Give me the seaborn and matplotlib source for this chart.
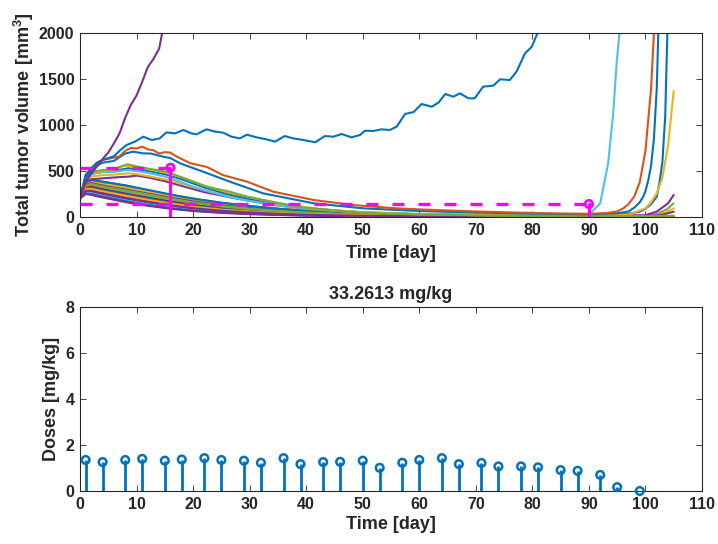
import numpy as np
import pandas as pd
import matplotlib
matplotlib.use("Agg")
import matplotlib.pyplot as plt
import seaborn as sns

# ---------------- data: tumour volume curves (mm^3) ----------------
BLUE, ORANGE, YELLOW, PURPLE = "#0072BD", "#D95319", "#EDB120", "#7E2F8E"
GREEN, CYAN, RED = "#77AC30", "#4DBEEE", "#A2142F"

d_purple_fast = [0, 1, 2, 3, 4, 5, 6, 7, 8, 9, 10, 11, 12, 13, 14, 15]
v_purple_fast = [200, 380, 470, 550, 630, 700, 800, 910, 1080, 1220, 1320, 1470, 1630, 1720, 1830, 2150]

d_blue_wave = [0, 1, 2, 3, 4, 5, 6, 7, 8.25, 9.7, 11.2, 12.7, 14.1, 15.3, 16.8, 18.3, 19.7, 20.6,
               22.4, 23.9, 25.3, 26.8, 28.3, 29.5, 31.2, 33.0, 34.5, 36.2, 37.7, 39.5, 41.6,
               43.3, 44.8, 46.3, 48.0, 49.5, 50.4, 51.9, 53.3, 54.8, 56.0, 57.5, 59.0, 60.4,
               62.2, 63.4, 64.6, 66.0, 67.2, 68.7, 69.8, 71.3, 73.1, 74.3, 76.0, 77.2, 78.7,
               79.9, 80.9, 81.5]
v_blue_wave = [200, 450, 530, 590, 620, 640, 660, 720, 783, 819, 873, 837, 855, 920, 909, 946, 909, 899,
               953, 928, 917, 873, 855, 895, 866, 844, 819, 880, 855, 837, 812,
               880, 873, 902, 866, 891, 938, 935, 953, 946, 982, 1120, 1141, 1228,
               1199, 1243, 1337, 1308, 1344, 1290, 1290, 1417, 1428, 1497, 1489, 1580, 1779,
               1851, 1997, 2150]

d_orange_top = [0, 1, 2, 3, 4, 6, 7, 8, 9, 10, 11, 12, 13, 14, 15, 16, 17, 19.5, 22.4, 25.3, 29.5,
                34.2, 41.3, 48.3, 56, 61, 70, 78, 85, 90, 93, 95, 96, 97, 98, 99, 100, 101, 102]
v_orange_top = [200, 460, 530, 590, 620, 645, 660, 720, 750, 745, 765, 735, 725, 690, 705, 700, 660,
                585, 545, 455, 385, 275, 185, 130, 94, 80, 60, 47, 38, 35, 42, 60, 90, 140, 220,
                380, 720, 1400, 2600]

d_blue_top = [0, 1, 2, 3, 4, 6, 8, 9.4, 11.2, 12.5, 14.7, 16, 17.7, 21.8, 26.5, 32.4, 41.3, 50.1,
              60, 70, 80, 90, 95, 97, 98, 99, 99.6, 100, 100.5, 101, 101.5, 102, 102.5]
v_blue_top = [200, 420, 500, 560, 590, 610, 690, 710, 692, 690, 656, 640, 583, 492, 384, 257, 149, 94,
              65, 48, 37, 30, 40, 60, 100, 160, 220, 280, 400, 560, 850, 1400, 2500]

d_green_mid = [0, 1, 2, 4, 6, 7, 8.5, 10, 11.8, 15.3, 17.7, 22.4, 26.5, 29.5, 35.4, 38.3, 44.2,
               47.2, 53, 60, 70, 80, 90, 100, 105]
v_green_mid = [200, 440, 490, 510, 520, 545, 573, 550, 529, 492, 438, 329, 275, 221, 149, 112, 76,
               58, 40, 28, 18, 13, 10, 10, 12]

d_yellow_mid = [0, 1, 2, 4, 6, 8, 10, 12, 15, 18, 22, 26, 30, 35, 40, 45, 50, 60, 70, 80, 90, 100, 105]
v_yellow_mid = [200, 430, 480, 500, 515, 560, 545, 520, 485, 430, 340, 270, 215, 150, 105, 72, 52,
                30, 20, 14, 11, 10, 12]

d_cyan_mid = [0, 1, 2, 4, 6, 8.3, 10, 12, 15, 17.7, 20, 22, 26.5, 30, 35.4, 40, 45, 50, 60, 70, 80,
              88, 90, 92, 93.4, 94.3, 94.9, 95.4, 96]
v_cyan_mid = [200, 420, 470, 490, 490, 511, 500, 480, 440, 384, 330, 290, 215, 175, 125, 95, 70, 52,
              33, 24, 20, 20, 22, 149, 583, 1127, 1670, 2000, 2600]

d_blue_mid = [0, 1, 2, 4, 6, 8.5, 10, 12, 15, 18, 22, 26, 30, 35, 40, 50, 60, 70, 80, 90, 100, 105]
v_blue_mid = [200, 420, 470, 490, 500, 530, 520, 500, 465, 410, 320, 250, 195, 135, 95, 50, 30, 20,
              14, 10, 8, 8]

d_purple_mid = [0, 1, 2, 4, 6, 8.8, 10, 12, 15, 19.5, 22, 26.5, 30, 35, 40, 45, 50, 60, 70, 80, 90,
                100, 102, 104, 105]
v_purple_mid = [200, 380, 410, 420, 430, 440, 450, 430, 390, 312, 270, 215, 175, 125, 90, 65, 48,
                28, 18, 13, 10, 20, 58, 149, 239]

d_yellow_mid2 = [0, 1, 2, 4, 6, 8.5, 10, 12, 15, 18, 22, 26, 30, 35, 40, 50, 60, 70, 80, 90, 97,
                 100, 101, 102, 103, 104, 105]
v_yellow_mid2 = [200, 400, 440, 455, 460, 475, 465, 445, 410, 360, 290, 230, 180, 125, 88, 48, 30,
                 22, 18, 18, 25, 95, 160, 257, 430, 780, 1370]

d_bundle = [0, 1, 2, 3, 5, 8, 12, 16, 20, 25, 30, 35, 40, 50, 60, 70, 80, 90, 100, 105]
v_b01 = [200, 380, 400, 390, 370, 340, 290, 240, 195, 150, 115, 88, 66, 38, 22, 14, 10, 8, 7, 7]
v_b02 = [200, 370, 390, 380, 360, 330, 285, 240, 200, 155, 120, 90, 68, 40, 24, 15, 10, 8, 7, 7]
v_b03 = [200, 360, 380, 370, 350, 320, 275, 230, 190, 145, 110, 85, 63, 36, 21, 13, 9, 7, 6, 6]
v_b04 = [200, 350, 370, 355, 330, 300, 255, 210, 170, 128, 96, 72, 54, 30, 17, 11, 8, 6, 6, 6]
v_b05 = [200, 340, 360, 345, 320, 290, 245, 200, 160, 120, 90, 68, 50, 28, 16, 10, 7, 6, 6, 6]
v_b06 = [200, 330, 345, 330, 305, 270, 225, 180, 143, 105, 78, 58, 43, 24, 14, 9, 7, 5, 5, 5]
v_b07 = [200, 320, 330, 315, 290, 255, 210, 168, 132, 96, 70, 52, 38, 21, 12, 8, 6, 5, 5, 5]
v_b08 = [200, 310, 320, 305, 280, 245, 200, 158, 122, 88, 64, 47, 34, 19, 11, 7, 5, 5, 5, 5]
v_b09 = [200, 300, 310, 295, 270, 235, 190, 150, 115, 82, 60, 43, 31, 17, 10, 7, 5, 4, 4, 4]
v_b10 = [200, 295, 300, 285, 260, 225, 180, 140, 107, 76, 55, 40, 29, 16, 9, 6, 5, 4, 4, 4]
v_b11 = [200, 290, 290, 275, 250, 212, 168, 130, 98, 69, 50, 36, 26, 14, 8, 6, 4, 4, 4, 4]
v_b12 = [200, 280, 280, 265, 240, 202, 158, 120, 90, 63, 45, 32, 23, 12, 7, 5, 4, 4, 4, 4]
v_b13 = [200, 270, 270, 255, 230, 192, 148, 112, 83, 58, 41, 29, 21, 11, 6, 4, 4, 3, 3, 3]
v_b14 = [200, 265, 260, 245, 220, 182, 140, 105, 77, 54, 38, 27, 19, 10, 6, 4, 3, 3, 3, 3]
v_b15 = [200, 255, 250, 235, 210, 172, 130, 96, 70, 49, 34, 24, 17, 9, 5, 4, 3, 3, 3, 3]
v_b16 = [200, 250, 240, 225, 200, 162, 122, 90, 65, 45, 31, 22, 15, 8, 5, 3, 3, 3, 3, 3]

# regrowing tails of bundle curves
d_blue_regrow = [0, 1, 2, 3, 5, 8, 12, 16, 20, 25, 30, 35, 40, 50, 60, 70, 80, 90, 95, 97, 99, 100,
                 101, 102, 102.5, 103, 103.5, 104]
v_blue_regrow = [200, 385, 405, 395, 375, 345, 295, 245, 200, 155, 118, 90, 68, 40, 25, 18, 14, 15,
                 25, 35, 58, 90, 140, 221, 380, 600, 1100, 2300]
d_green_regrow = [0, 1, 2, 3, 5, 8, 12, 16, 20, 25, 30, 35, 40, 50, 60, 70, 80, 90, 100, 102, 103.8, 105]
v_green_regrow = [200, 335, 355, 340, 315, 285, 240, 195, 155, 115, 86, 65, 48, 27, 16, 10, 8, 8, 12,
                  30, 84, 149]
d_yellow_regrow = [0, 1, 2, 3, 5, 8, 12, 16, 20, 25, 30, 35, 40, 50, 60, 70, 80, 90, 100, 103, 105]
v_yellow_regrow = [200, 300, 305, 290, 265, 230, 185, 145, 110, 78, 57, 41, 30, 16, 10, 7, 6, 6, 10,
                   35, 94]
d_purple_regrow = [0, 1, 2, 3, 5, 8, 12, 16, 20, 25, 30, 35, 40, 50, 60, 70, 80, 90, 100, 103, 105]
v_purple_regrow = [200, 285, 285, 270, 245, 208, 165, 127, 96, 68, 49, 35, 25, 13, 8, 6, 5, 5, 8,
                   25, 58]

curves = [
    ("b01", BLUE, d_bundle, v_b01), ("b02", ORANGE, d_bundle, v_b02),
    ("b03", YELLOW, d_bundle, v_b03), ("b04", PURPLE, d_bundle, v_b04),
    ("b05", GREEN, d_bundle, v_b05), ("b06", CYAN, d_bundle, v_b06),
    ("b07", RED, d_bundle, v_b07), ("b08", BLUE, d_bundle, v_b08),
    ("b09", ORANGE, d_bundle, v_b09), ("b10", YELLOW, d_bundle, v_b10),
    ("b11", PURPLE, d_bundle, v_b11), ("b12", GREEN, d_bundle, v_b12),
    ("b13", RED, d_bundle, v_b13), ("b14", CYAN, d_bundle, v_b14),
    ("b15", BLUE, d_bundle, v_b15), ("b16", PURPLE, d_bundle, v_b16),
    ("blue_regrow", BLUE, d_blue_regrow, v_blue_regrow),
    ("green_regrow", GREEN, d_green_regrow, v_green_regrow),
    ("yellow_regrow", YELLOW, d_yellow_regrow, v_yellow_regrow),
    ("purple_regrow", PURPLE, d_purple_regrow, v_purple_regrow),
    ("purple_mid", PURPLE, d_purple_mid, v_purple_mid),
    ("yellow_mid2", YELLOW, d_yellow_mid2, v_yellow_mid2),
    ("blue_mid", BLUE, d_blue_mid, v_blue_mid),
    ("cyan_mid", CYAN, d_cyan_mid, v_cyan_mid),
    ("yellow_mid", YELLOW, d_yellow_mid, v_yellow_mid),
    ("green_mid", GREEN, d_green_mid, v_green_mid),
    ("blue_top", BLUE, d_blue_top, v_blue_top),
    ("orange_top", ORANGE, d_orange_top, v_orange_top),
    ("blue_wave", BLUE, d_blue_wave, v_blue_wave),
    ("purple_fast", PURPLE, d_purple_fast, v_purple_fast),
]

# magenta markers: (day, volume)
mark_days = [16, 90]
mark_vols = [536, 141]

# ---------------- data: doses ----------------
dose_days = [1, 4, 8, 11, 15, 18, 22, 25, 29, 32, 36, 39, 43, 46, 50, 53, 57, 60, 64, 67, 71,
             74, 78, 81, 85, 88, 92, 95, 99]
dose_vals = [1.35, 1.26, 1.35, 1.40, 1.32, 1.37, 1.43, 1.35, 1.32, 1.23, 1.43, 1.17, 1.26, 1.27,
             1.32, 1.01, 1.23, 1.35, 1.43, 1.17, 1.22, 1.07, 1.07, 1.03, 0.91, 0.88, 0.70, 0.17, 0.0]
dose_title = "33.2613 mg/kg"

# ---------------- style ----------------
sns.set_style("ticks")
plt.rcParams["font.family"] = ["Liberation Sans", "DejaVu Sans"]
plt.rcParams["font.weight"] = "bold"
plt.rcParams["axes.labelweight"] = "bold"
plt.rcParams["axes.titleweight"] = "bold"
plt.rcParams["mathtext.default"] = "regular"
plt.rcParams["xtick.direction"] = "in"
plt.rcParams["ytick.direction"] = "in"

fig = plt.figure(figsize=(7.18, 5.44), dpi=100)
ax1 = fig.add_axes([0.1114, 0.6011, 0.8663, 0.3382])
ax2 = fig.add_axes([0.1114, 0.0974, 0.8663, 0.3382])

rows = []
for name, col, dd, vv in curves:
    for d, v in zip(dd, vv):
        rows.append((name, d, v))
df = pd.DataFrame(rows, columns=["curve", "day", "vol"])
palette = {name: col for name, col, _, _ in curves}
sns.lineplot(data=df, x="day", y="vol", hue="curve", palette=palette, hue_order=[c[0] for c in curves],
             estimator=None, sort=False, lw=1.5, legend=False, ax=ax1)

MAG = "#FF00FF"
for d, v in zip(mark_days, mark_vols):
    ax1.plot([0, d], [v, v], color=MAG, lw=2.4, ls=(0, (3.6, 4.2)), zorder=5)
    ax1.plot([d, d], [0, v], color=MAG, lw=2.2, zorder=5)
mdf = pd.DataFrame({"day": mark_days, "vol": mark_vols})
sns.scatterplot(data=mdf, x="day", y="vol", ax=ax1, marker="o", s=28, facecolor="none",
                edgecolor=MAG, linewidth=2.0, zorder=6)

ax1.set_xlim(0, 110)
ax1.set_ylim(0, 2000)
ax1.set_xticks(range(0, 111, 10))
ax1.set_yticks([0, 500, 1000, 1500, 2000])
ax1.set_xlabel("Time [day]", fontsize=13, labelpad=5)
ax1.set_ylabel("Total tumor volume [mm$^{3}$]", fontsize=13, labelpad=2)

# doses
ddf = pd.DataFrame({"day": dose_days, "dose": dose_vals})
ax2.vlines(ddf["day"], 0, ddf["dose"], color=BLUE, lw=2.0, zorder=3)
sns.scatterplot(data=ddf, x="day", y="dose", ax=ax2, marker="o", s=30, facecolor="none",
                edgecolor=BLUE, linewidth=1.8, zorder=4, clip_on=False)
ax2.set_xlim(0, 110)
ax2.set_ylim(0, 8)
ax2.set_xticks(range(0, 111, 10))
ax2.set_yticks([0, 2, 4, 6, 8])
ax2.set_xlabel("Time [day]", fontsize=13, labelpad=3)
ax2.set_ylabel("Doses [mg/kg]", fontsize=13, labelpad=4)
ax2.set_title(dose_title, fontsize=13, pad=6)

for ax in (ax1, ax2):
    for sp in ax.spines.values():
        sp.set_visible(True)
        sp.set_color("#262626")
        sp.set_linewidth(0.8)
    ax.tick_params(axis="both", which="both", top=True, right=True, length=4, width=0.6,
                   color="#262626", labelsize=11.5, pad=4)
    for lab in ax.get_xticklabels() + ax.get_yticklabels():
        lab.set_fontweight("bold")
        lab.set_color("#262626")
    ax.xaxis.label.set_color("#262626")
    ax.yaxis.label.set_color("#262626")

fig.savefig("out.png", dpi=100)
